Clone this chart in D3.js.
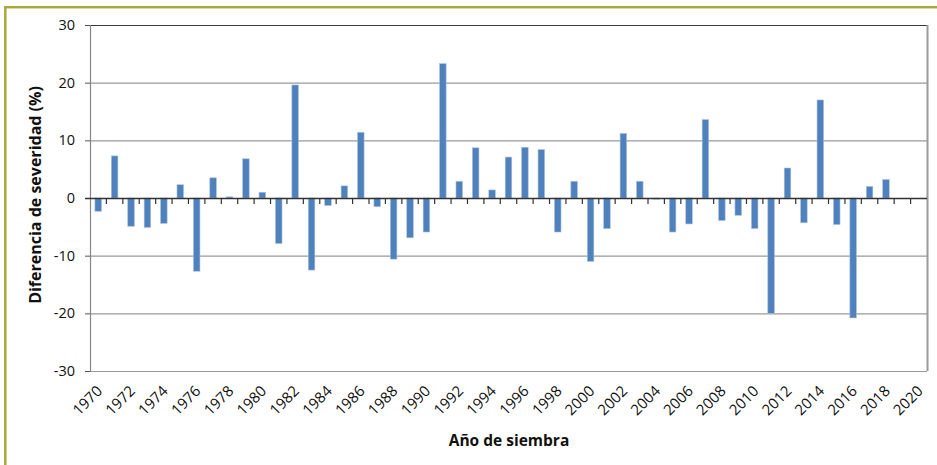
<!DOCTYPE html>
<html>
<head>
<meta charset="utf-8">
<script src="https://cdn.jsdelivr.net/npm/d3@7"></script>
<style>
  body { margin: 0; background: #fff; }
  svg { display: block; font-family: "Open Sans", sans-serif; }
</style>
</head>
<body>
<svg id="drawing_region"></svg>
<script>
// años de siembra 1970..2020 (2019 y 2020 sin dato)
const years = d3.range(1970, 2021);
const values = [
  -2.3, 7.3, -4.9, -5.1, -4.4, 2.3, -12.7, 3.5, 0.2, 6.8,
  1.0, -7.9, 19.6, -12.5, -1.3, 2.1, 11.4, -1.5, -10.6, -6.9,
  -5.9, 23.3, 2.9, 8.7, 1.4, 7.1, 8.8, 8.4, -5.9, 2.9,
  -11.0, -5.3, 11.2, 2.9, -0.2, -5.9, -4.5, 13.6, -3.9, -3.0,
  -5.3, -20.0, 5.2, -4.3, 17.0, -4.6, -20.8, 2.0, 3.2, null,
  null
];
const yTicks = [-30, -20, -10, 0, 10, 20, 30];
const xLabels = d3.range(1970, 2021, 2);

const config = {
  width: 937,
  height: 465,
  margin: {top: 25, right: 10, bottom: 94, left: 90}
};

const data = years.map((y, i) => ({year: y, value: values[i]}));

const svg = d3.select('#drawing_region')
  .attr('width', config.width)
  .attr('height', config.height);

// marco exterior
svg.append('rect')
  .attr('x', 5.3).attr('y', 7.2)
  .attr('width', 960).attr('height', 500)
  .attr('fill', 'none')
  .attr('stroke', '#A9A83C')
  .attr('stroke-width', 2.5);

const innerW = config.width - config.margin.left - config.margin.right;
const innerH = config.height - config.margin.top - config.margin.bottom;

const chart = svg.append('g')
  .attr('transform', `translate(${config.margin.left}, ${config.margin.top})`);

const xscale = d3.scaleBand()
  .domain(years)
  .range([0, innerW])
  .paddingInner(0.6)
  .paddingOuter(0.3);

const yscale = d3.scaleLinear()
  .domain([-30, 30])
  .range([innerH, 0]);

// lineas de cuadricula
chart.selectAll('.grid')
  .data(yTicks.filter(t => t !== 0))
  .enter()
  .append('line')
  .attr('x1', 0).attr('x2', innerW)
  .attr('y1', d => yscale(d) + 0.5).attr('y2', d => yscale(d) + 0.5)
  .attr('stroke', d => d === 30 ? '#3a3a3a' : '#9a9a9a')
  .attr('stroke-width', 1.2);

// borde derecho
chart.append('line')
  .attr('x1', innerW + 0.5).attr('x2', innerW + 0.5)
  .attr('y1', 0).attr('y2', innerH)
  .attr('stroke', '#9a9a9a')
  .attr('stroke-width', 2);

// eje y
const yaxis = d3.axisLeft(yscale)
  .tickValues(yTicks)
  .tickFormat(d => String(d))
  .tickSize(5)
  .tickPadding(10);

const yg = chart.append('g').call(yaxis);
yg.select('.domain').attr('stroke', '#868686').attr('stroke-width', 1.2);
yg.selectAll('.tick line').attr('stroke', '#555');
yg.selectAll('.tick text')
  .attr('font-size', 14.5)
  .attr('font-family', '"Open Sans", sans-serif')
  .attr('fill', '#111');

// barras
chart.selectAll('.bar')
  .data(data.filter(d => d.value !== null))
  .enter()
  .append('rect')
  .attr('x', d => xscale(d.year))
  .attr('width', xscale.bandwidth())
  .attr('y', d => yscale(Math.max(0, d.value)))
  .attr('height', d => Math.abs(yscale(d.value) - yscale(0)))
  .attr('fill', '#4F81BD')
  .attr('stroke', '#a9c2e0')
  .attr('stroke-width', 0.6);

// linea del cero con marcas entre categorias
const zeroY = yscale(0);
chart.append('line')
  .attr('x1', -5).attr('x2', innerW)
  .attr('y1', zeroY + 0.5).attr('y2', zeroY + 0.5)
  .attr('stroke', '#333')
  .attr('stroke-width', 1.4);

const step = xscale.step();
const bounds = years.map(y => xscale(y) - xscale.paddingOuter() * step);
chart.selectAll('.xtick')
  .data(bounds.slice(1))
  .enter()
  .append('line')
  .attr('x1', d => d).attr('x2', d => d)
  .attr('y1', zeroY).attr('y2', zeroY + 6)
  .attr('stroke', '#333')
  .attr('stroke-width', 1.2);

// etiquetas del eje x
chart.selectAll('.xlabel')
  .data(xLabels)
  .enter()
  .append('text')
  .attr('transform', d => `translate(${xscale(d) + xscale.bandwidth() / 2 + 5}, ${innerH + 21}) rotate(-45)`)
  .attr('text-anchor', 'end')
  .attr('font-size', 15)
  .attr('fill', '#111')
  .text(d => d);

// titulos
svg.append('text')
  .attr('x', 509)
  .attr('y', 446)
  .attr('text-anchor', 'middle')
  .attr('font-size', 15.5)
  .attr('font-weight', 'bold')
  .attr('fill', '#111')
  .text('Año de siembra');

svg.append('text')
  .attr('transform', `translate(41, ${config.margin.top + yscale(0) - 3}) rotate(-90)`)
  .attr('text-anchor', 'middle')
  .attr('font-size', 16)
  .attr('font-weight', 'bold')
  .attr('fill', '#111')
  .text('Diferencia de severidad (%)');
</script>
</body>
</html>
